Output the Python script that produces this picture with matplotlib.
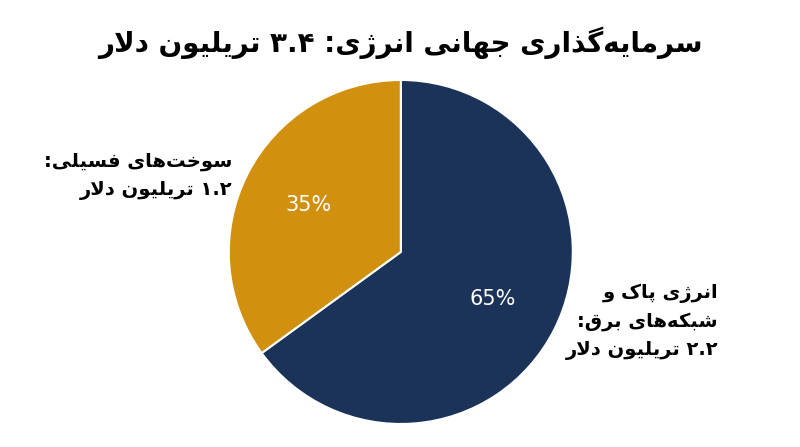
import re
import matplotlib
matplotlib.use("Agg")
import matplotlib.pyplot as plt

title = "سرمایه‌گذاری جهانی انرژی: ۳.۴ تریلیون دلار"
categories = ["انرژی پاک و\nشبکه‌های برق:\n۲.۲ تریلیون دلار", "سوخت‌های فسیلی:\n۱.۲ تریلیون دلار"]
values = [65, 35]
colors = ["#1b3259", "#d1900e"]

FORMS = {
    'ا': (0xFE8D, 0xFE8E, None, None), 'ب': (0xFE8F, 0xFE90, 0xFE91, 0xFE92),
    'پ': (0xFB56, 0xFB57, 0xFB58, 0xFB59), 'ت': (0xFE95, 0xFE96, 0xFE97, 0xFE98),
    'ج': (0xFE9D, 0xFE9E, 0xFE9F, 0xFEA0), 'خ': (0xFEA5, 0xFEA6, 0xFEA7, 0xFEA8),
    'د': (0xFEA9, 0xFEAA, None, None), 'ذ': (0xFEAB, 0xFEAC, None, None),
    'ر': (0xFEAD, 0xFEAE, None, None), 'ژ': (0xFB8A, 0xFB8B, None, None),
    'س': (0xFEB1, 0xFEB2, 0xFEB3, 0xFEB4), 'ش': (0xFEB5, 0xFEB6, 0xFEB7, 0xFEB8),
    'ف': (0xFED1, 0xFED2, 0xFED3, 0xFED4), 'ق': (0xFED5, 0xFED6, 0xFED7, 0xFED8),
    'ک': (0xFB8E, 0xFB8F, 0xFB90, 0xFB91), 'گ': (0xFB92, 0xFB93, 0xFB94, 0xFB95),
    'ل': (0xFEDD, 0xFEDE, 0xFEDF, 0xFEE0), 'م': (0xFEE1, 0xFEE2, 0xFEE3, 0xFEE4),
    'ن': (0xFEE5, 0xFEE6, 0xFEE7, 0xFEE8), 'ه': (0xFEE9, 0xFEEA, 0xFEEB, 0xFEEC),
    'و': (0xFEED, 0xFEEE, None, None), 'ی': (0xFBFC, 0xFBFD, 0xFBFE, 0xFBFF),
}

def dual(c):
    return c in FORMS and FORMS[c][2] is not None

def shape(s):
    out = []
    i = 0
    n = len(s)
    while i < n:
        c = s[i]
        if c not in FORMS:
            if c != '\u200c':
                out.append(c)
            i += 1
            continue
        prev = s[i-1] if i > 0 else ''
        jp = dual(prev)
        if c == 'ل' and i + 1 < n and s[i+1] == 'ا':
            out.append(chr(0xFEFC if jp else 0xFEFB))
            i += 2
            continue
        nxt = s[i+1] if i + 1 < n else ''
        jn = dual(c) and nxt in FORMS
        iso, fin, ini, med = FORMS[c]
        if jp and jn:
            f = med
        elif jp:
            f = fin
        elif jn:
            f = ini
        else:
            f = iso
        out.append(chr(f))
        i += 1
    return ''.join(out)

NUM = re.compile(r'[۰-۹0-9]+(?:\.[۰-۹0-9]+)*')

def visual(s):
    lines = []
    for line in s.split('\n'):
        sh = shape(line)
        runs = []
        pos = 0
        for m in NUM.finditer(sh):
            if m.start() > pos:
                runs.append(sh[pos:m.start()][::-1])
            runs.append(m.group())
            pos = m.end()
        if pos < len(sh):
            runs.append(sh[pos:][::-1])
        lines.append(''.join(runs[::-1]))
    return '\n'.join(lines)

plt.rcParams['font.family'] = ['DejaVu Sans']
fig = plt.figure(figsize=(8, 4.47), dpi=100)
fig.text(0.5, 0.905, visual(title), ha='center', va='center', fontsize=20, fontweight='bold')

ax = fig.add_axes([0.286, 0.0515, 0.43, 0.7696])
wedges, texts, autotexts = ax.pie(values, colors=colors, startangle=90, counterclock=False,
                                  autopct='%d%%', pctdistance=0.6,
                                  wedgeprops=dict(edgecolor='white', linewidth=1.5),
                                  textprops=dict(color='white', fontsize=15))
ax.set_xlim(-1, 1); ax.set_ylim(-1, 1); ax.set_aspect('equal')

fig.text(718/800, 1 - 322/447, visual(categories[0]), ha='right', va='center',
         fontsize=14, fontweight='bold', linespacing=1.6, multialignment='right')
fig.text(232/800, 1 - 176/447, visual(categories[1]), ha='right', va='center',
         fontsize=14, fontweight='bold', linespacing=1.6, multialignment='right')

fig.savefig('out.png', dpi=100)
